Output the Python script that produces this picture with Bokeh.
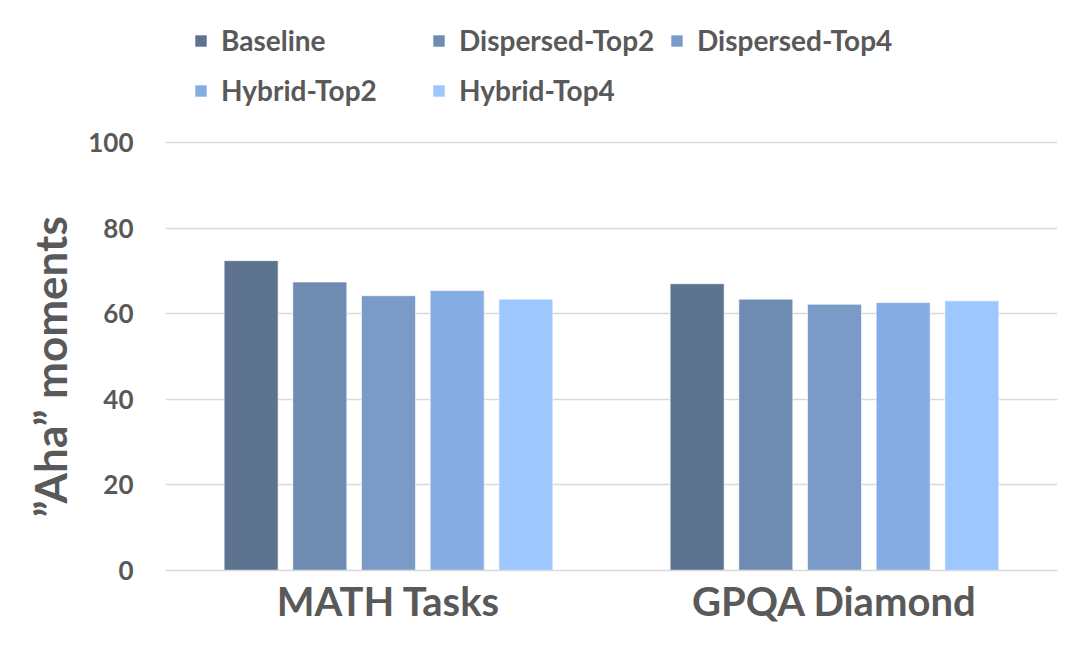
from bokeh.plotting import figure
from bokeh.models import ColumnDataSource, Legend, LegendItem, Title
from bokeh.transform import dodge
from bokeh.embed import file_html
from bokeh.resources import INLINE

categories = ["MATH Tasks", "GPQA Diamond"]
series = ["Baseline", "Dispersed-Top2", "Dispersed-Top4", "Hybrid-Top2", "Hybrid-Top4"]
baseline = [72.4, 67.0]
dispersed_top2 = [67.4, 63.4]
dispersed_top4 = [64.2, 62.2]
hybrid_top2 = [65.4, 62.6]
hybrid_top4 = [63.4, 63.0]
y_ticks = [0, 20, 40, 60, 80, 100]
y_label = "\u201dAha\u201d moments"

colors = ["#5E7390", "#6E8BB1", "#7A9AC8", "#85ADE3", "#9DC8FF"]
values = [baseline, dispersed_top2, dispersed_top4, hybrid_top2, hybrid_top4]
offsets = [-0.308, -0.154, 0.0, 0.154, 0.308]

data = {"cat": categories}
for s, v in zip(series, values):
    data[s] = v
source = ColumnDataSource(data)

FONT = "Lato"
TXT = "#595959"

# extra headroom above 100 holds the legend (no ticks/grid there)
p = figure(x_range=categories, y_range=(0, 130.84), width=1072, height=659,
           output_backend="svg", toolbar_location=None,
           min_border_left=165, min_border_right=15, min_border_top=10,
           min_border_bottom=89)
p.outline_line_color = None

renderers = []
for s, c, o in zip(series, colors, offsets):
    r = p.vbar(x=dodge("cat", o, range=p.x_range), top=s, width=0.121, source=source,
               fill_color=c, line_color="white", line_alpha=0.6, line_width=1)
    renderers.append(r)

p.xgrid.grid_line_color = None
p.ygrid.grid_line_color = "#D9D9D9"
p.ygrid.grid_line_width = 1.5
p.yaxis.ticker = y_ticks
p.yaxis.axis_line_color = None
p.yaxis.major_tick_line_color = None
p.yaxis.minor_tick_line_color = None
p.yaxis.major_label_text_font = FONT
p.yaxis.major_label_text_font_style = "bold"
p.yaxis.major_label_text_font_size = "26px"
p.yaxis.major_label_text_color = TXT
p.yaxis.major_label_standoff = 26

ylab = Title(text=y_label, align="left", offset=53, standoff=20,
             text_font=FONT, text_font_style="bold", text_font_size="44px",
             text_color=TXT)
p.add_layout(ylab, "left")

p.xaxis.axis_line_color = "#D9D9D9"
p.xaxis.axis_line_width = 1.5
p.xaxis.major_tick_line_color = None
p.xaxis.minor_tick_line_color = None
p.xaxis.major_label_text_font = FONT
p.xaxis.major_label_text_font_style = "bold"
p.xaxis.major_label_text_font_size = "40px"
p.xaxis.major_label_text_color = TXT
p.xaxis.major_label_standoff = 0

legend = Legend(items=[LegendItem(label=s, renderers=[r]) for s, r in zip(series, renderers)],
                location=(28, 455), orientation="horizontal", ncols=3,
                glyph_width=15, glyph_height=15, label_standoff=13,
                label_height=50, label_width=210, spacing=0,
                padding=0, margin=0, border_line_alpha=0, background_fill_alpha=0,
                label_text_font=FONT, label_text_font_style="bold",
                label_text_font_size="28px", label_text_color=TXT)
p.add_layout(legend, "center")

open("out.html", "w").write(file_html(p, INLINE))
